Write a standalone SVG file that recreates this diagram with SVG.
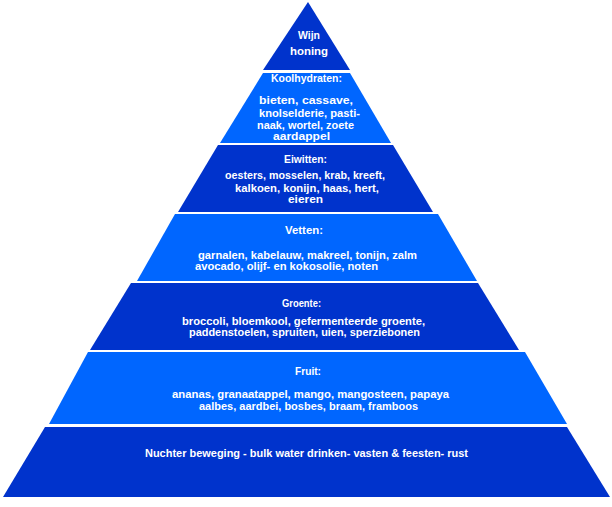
<svg xmlns="http://www.w3.org/2000/svg" width="612" height="507" viewBox="0 0 612 507">
<style>
.dark{fill:#0033cc}
.light{fill:#0066ff}
text{font-family:"Liberation Sans",Arial,sans-serif;font-size:11px;font-weight:bold;fill:#ffffff}
</style>
<rect width="612" height="507" fill="#ffffff"/>
<g id="layer-wijn">
<polygon class="dark" points="308,2 350,70 263,70"/>
<text x="298" y="39" textLength="22" lengthAdjust="spacingAndGlyphs">Wijn</text>
<text x="290" y="55" textLength="38" lengthAdjust="spacingAndGlyphs">honing</text>
</g>
<g id="layer-koolhydraten">
<polygon class="light" points="263,73 350,73 391,143 220,143"/>
<text x="271" y="82" textLength="71" lengthAdjust="spacingAndGlyphs">Koolhydraten:</text>
<text x="259" y="104" textLength="94" lengthAdjust="spacingAndGlyphs">bieten, cassave,</text>
<text x="259" y="117" textLength="101" lengthAdjust="spacingAndGlyphs">knolselderie, pasti-</text>
<text x="257" y="129" textLength="97" lengthAdjust="spacingAndGlyphs">naak, wortel, zoete</text>
<text x="273" y="140" textLength="57" lengthAdjust="spacingAndGlyphs">aardappel</text>
</g>
<g id="layer-eiwitten">
<polygon class="dark" points="218,145 393,145 433,212 178,212"/>
<text x="284" y="163" textLength="43" lengthAdjust="spacingAndGlyphs">Eiwitten:</text>
<text x="225" y="179" textLength="160" lengthAdjust="spacingAndGlyphs">oesters, mosselen, krab, kreeft,</text>
<text x="235" y="192" textLength="144" lengthAdjust="spacingAndGlyphs">kalkoen, konijn, haas, hert,</text>
<text x="288" y="203" textLength="35" lengthAdjust="spacingAndGlyphs">eieren</text>
</g>
<g id="layer-vetten">
<polygon class="light" points="175,214 438,214 477,281 137,281"/>
<text x="285" y="234" textLength="38" lengthAdjust="spacingAndGlyphs">Vetten:</text>
<text x="198" y="259" textLength="219" lengthAdjust="spacingAndGlyphs">garnalen, kabelauw, makreel, tonijn, zalm</text>
<text x="195" y="270" textLength="183" lengthAdjust="spacingAndGlyphs">avocado, olijf- en kokosolie, noten</text>
</g>
<g id="layer-groente">
<polygon class="dark" points="131,283 478,283 519,350 90,350"/>
<text x="282" y="307" textLength="39" lengthAdjust="spacingAndGlyphs">Groente:</text>
<text x="182" y="325" textLength="243" lengthAdjust="spacingAndGlyphs">broccoli, bloemkool, gefermenteerde groente,</text>
<text x="189" y="336" textLength="231" lengthAdjust="spacingAndGlyphs">paddenstoelen, spruiten, uien, sperziebonen</text>
</g>
<g id="layer-fruit">
<polygon class="light" points="88,352 525,352 567,424 49,424"/>
<text x="295" y="375" textLength="26" lengthAdjust="spacingAndGlyphs">Fruit:</text>
<text x="172" y="398" textLength="277" lengthAdjust="spacingAndGlyphs">ananas, granaatappel, mango, mangosteen, papaya</text>
<text x="199" y="410" textLength="219" lengthAdjust="spacingAndGlyphs">aalbes, aardbei, bosbes, braam, framboos</text>
</g>
<g id="layer-basis">
<polygon class="dark" points="45,427 567,427 610,497 3,497"/>
<text x="145" y="457" textLength="323" lengthAdjust="spacingAndGlyphs">Nuchter beweging - bulk water drinken- vasten &amp; feesten- rust</text>
</g>
<g id="connectors"/>
</svg>
